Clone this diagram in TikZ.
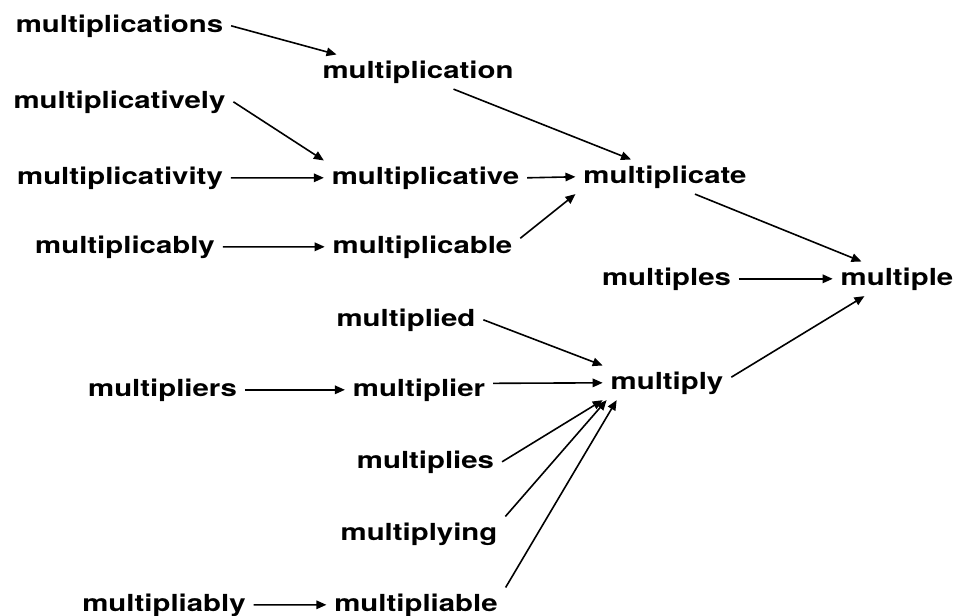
\documentclass[tikz,border=0pt]{standalone}
\usepackage{fontspec}
\newfontfamily\wordfont[FakeStretch=1.25]{TeX Gyre Heros}
\usetikzlibrary{arrows.meta}

\begin{document}
\begin{tikzpicture}[x=1pt, y=-1pt]
        % --- Styles ---
        \tikzset{
            word/.style={font=\wordfont\fontsize{23.5}{28}\selectfont\bfseries,
                inner xsep=4pt, inner ysep=2pt, outer sep=4pt, anchor=base},
            link/.style={-{Triangle[length=10pt,width=8.5pt]}, line width=1.6pt}
        }
        \useasboundingbox (0,0) rectangle (959,616);

        % --- Mots (positions des lignes de base) ---
        \foreach \w/\x/\y in {
            multiplications/119.5/32, multiplication/418/78,
            multiplicatively/119.5/108, multiplicativity/120/184,
            multiplicative/425.5/184, multiplicably/125/253,
            multiplicable/422.5/253, multiplicate/665/183,
            multiples/666.5/285, multiple/897/285,
            multiplied/406/326, multipliers/162.5/396,
            multiplier/419/396, multiplies/425.5/468,
            multiplying/419/540, multipliably/164/611,
            multipliable/416/611, multiply/667/389} {
            \node[word] (\w) at (\x,\y) {\w};
        }

        % --- Branche haute ---
        \draw[link] (multiplications.east) -- (multiplication.168);
        \draw[link] (multiplicatively.east) -- (multiplicative.north west);
        \draw[link] (multiplicativity.east) -- (multiplicative.west);
        \draw[link] (multiplicably.east) -- (multiplicable.west);
        \draw[link] (multiplicative.east) -- (multiplicate.west);
        \draw[link] (multiplicable.5) -- (multiplicate.south west);
        \draw[link] (multiplication.334) -- (multiplicate.153);
        \draw[link] (multiplicate.330) -- (multiple.154);
        \draw[link] (multiples.east) -- (multiple.west);

        % --- Branche basse ---
        \draw[link] (multiply.5) -- (multiple.208);
        \draw[link] (multiplied.east) -- (multiply.north west);
        \draw[link] (multiplier.5) -- (multiply.west);
        \draw[link] (multiplies.east) -- (multiply.south west);
        \draw[link] (multiplying.north east) -- (multiply.196);
        \draw[link] (multipliable.north east) -- (multiply.199);
        \draw[link] (multipliers.east) -- (multiplier.west);
        \draw[link] (multipliably.east) -- (multipliable.west);
\end{tikzpicture}
\end{document}
